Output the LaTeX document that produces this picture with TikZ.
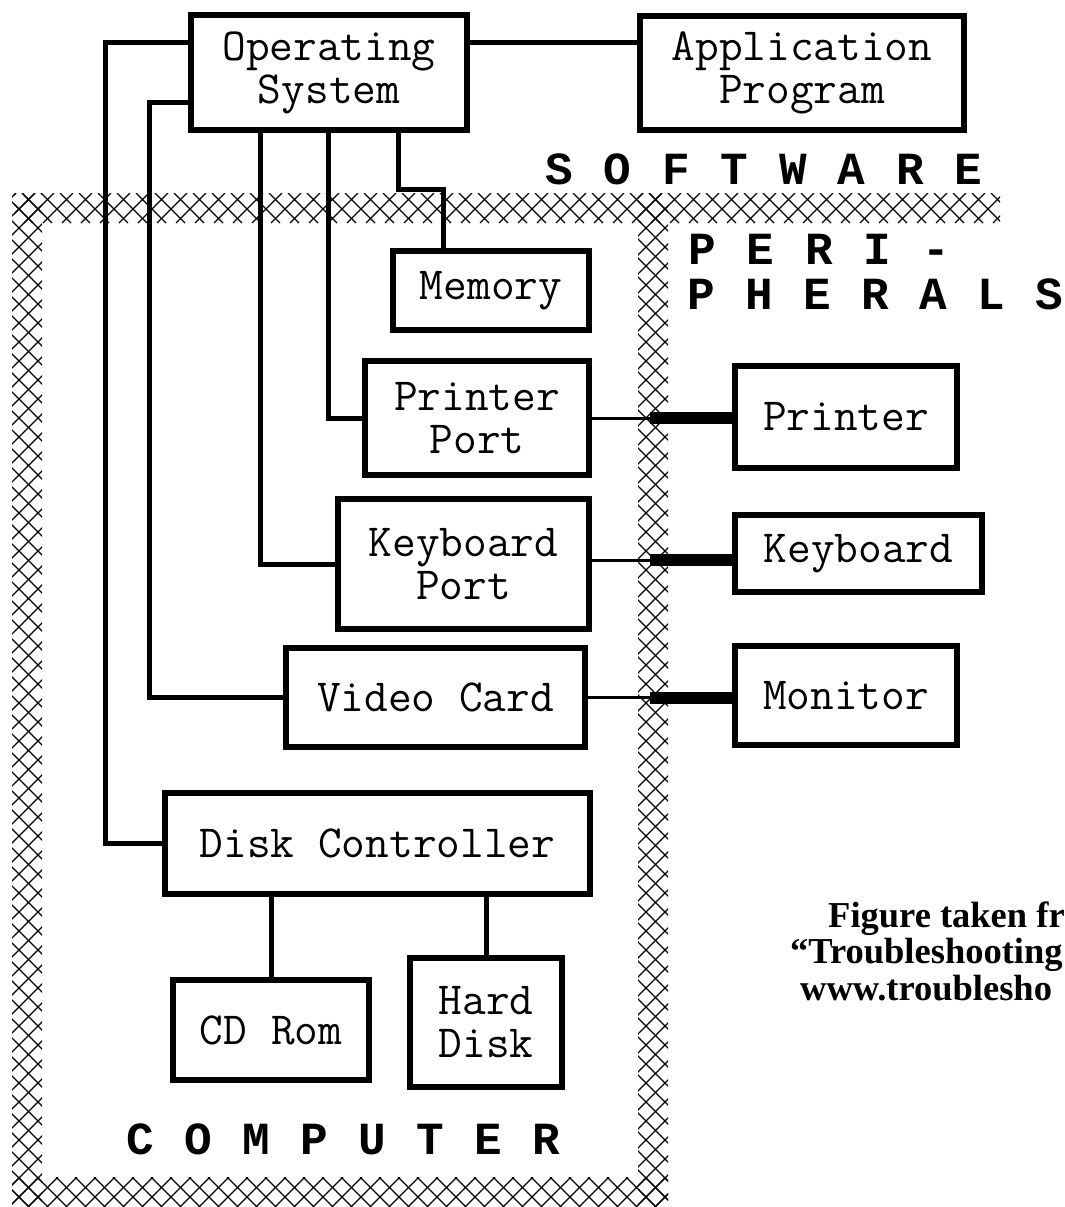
\documentclass[tikz,border=0pt]{standalone}
\usepackage{fontspec}
\usepackage{tikz}
\usetikzlibrary{calc}
\tikzset{>=latex}
\newfontfamily\spacedfont{Liberation Mono}
\newfontfamily\notefont{Liberation Serif}
\tikzstyle{unit}=[draw,line width=6pt,inner sep=0pt,align=center,font=\fontsize{46}{43}\selectfont\ttfamily]
\tikzstyle{wire}=[line width=5pt]
\tikzstyle{cable}=[line width=3pt]
\tikzstyle{plug}=[line width=12pt]
\tikzstyle{hatch}=[line width=1.2pt]
\tikzstyle{spaced}=[inner sep=0pt,anchor=base,font=\fontsize{46}{46}\selectfont\spacedfont\bfseries]
\tikzstyle{note}=[inner sep=0pt,anchor=base west,font=\fontsize{36.5}{38}\selectfont\notefont\bfseries]

\def\hstep{19}
% crosshatched band between (#1,#2) and (#3,#4)
\newcommand{\hatchband}[4]{%
  \begin{scope}
    \clip (#1,#2) rectangle (#3,#4);
    \pgfmathsetmacro{\ha}{floor((#1+#2)/\hstep)*\hstep}
    \pgfmathtruncatemacro{\hn}{((#3+#4)-\ha)/\hstep+1}
    \foreach \i in {0,...,\hn}{
      \pgfmathsetmacro{\hc}{\ha+\i*\hstep}
      \draw[hatch] (\hc-#2,#2) -- (\hc-#4,#4);
    }
    \pgfmathsetmacro{\hb}{floor((#1-#4)/\hstep)*\hstep}
    \pgfmathtruncatemacro{\hm}{((#3-#2)-\hb)/\hstep+1}
    \foreach \i in {0,...,\hm}{
      \pgfmathsetmacro{\hc}{\hb+\i*\hstep}
      \draw[hatch] (\hc+#2,#2) -- (\hc+#4,#4);
    }
  \end{scope}}

\begin{document}
\begin{tikzpicture}[x=1pt,y=-1pt]
  \useasboundingbox (0,0) rectangle (1065,1207);
  \fill[white] (0,0) rectangle (1065,1207);

  % borders of computer and peripherals
  \hatchband{14}{193}{1000}{223}
  \hatchband{12}{193}{42}{1207}
  \hatchband{638}{193}{668}{1207}
  \hatchband{12}{1177}{668}{1207}

  % software
  \node[unit,minimum width=276pt,minimum height=115pt] (os) at (329,72.5) {Operating\\System};
  \node[unit,minimum width=324pt,minimum height=114pt] (app) at (802,73) {Application\\Program};

  % computer
  \node[unit,minimum width=196pt,minimum height=79pt] (mem) at (491,290.5) {Memory};
  \node[unit,minimum width=224pt,minimum height=114pt] (pport) at (477,418) {Printer\\Port};
  \node[unit,minimum width=251pt,minimum height=130pt] (kport) at (463.5,564) {Keyboard\\Port};
  \node[unit,minimum width=299pt,minimum height=99pt] (video) at (435.5,697.5) {Video Card};
  \node[unit,minimum width=425pt,minimum height=101pt] (disk) at (377.5,843.5) {Disk Controller};
  \node[unit,minimum width=196pt,minimum height=100pt] (cdrom) at (271,1030) {CD Rom};
  \node[unit,minimum width=152pt,minimum height=129pt] (hdisk) at (486,1022.5) {Hard\\Disk};

  % peripherals
  \node[unit,minimum width=222pt,minimum height=102pt] (printer) at (846,417) {Printer};
  \node[unit,minimum width=247pt,minimum height=77pt] (keyb) at (858.5,553.5) {Keyboard};
  \node[unit,minimum width=222pt,minimum height=99pt] (monitor) at (846,695.5) {Monitor};

  % spaced titles
  \foreach \l [count=\i] in {S,O,F,T,W,A,R,E}
    \node[spaced] (sw\i) at ({559+(\i-1)*58.5},184) {\l};
  \foreach \l [count=\i] in {P,E,R,I,-}
    \node[spaced] (pa\i) at ({702+(\i-1)*58.5},264) {\l};
  \foreach \l [count=\i] in {P,H,E,R,A,L,S}
    \node[spaced] (pb\i) at ({701+(\i-1)*58},309) {\l};
  \foreach \l [count=\i] in {C,O,M,P,U,T,E,R}
    \node[spaced] (cp\i) at ({140+(\i-1)*58},1154) {\l};

  % connections
  \coordinate (osr) at ([yshift=30pt]os.east);
  \draw[wire] (osr) -- (osr -| app.west);
  \draw[wire] ([yshift=30pt]os.west) -- ++(-83,0) |- (disk.west);
  \draw[wire] ([yshift=-30pt]os.west) -- ++(-39,0) |- (video.west);
  \draw[wire] ([xshift=-69pt]os.south) |- (kport.west);
  \draw[wire] ([xshift=-1pt]os.south) |- (pport.west);
  \draw[wire] ([xshift=69pt]os.south) |- ([xshift=-48pt,yshift=59pt]mem.north) -- ([xshift=-48pt]mem.north);
  \draw[wire] (disk.south -| cdrom.north) -- (cdrom.north);
  \draw[wire] (disk.south -| hdisk.north) -- (hdisk.north);

  % cables to the peripherals
  \coordinate (kpr) at ([yshift=4pt]kport.east);
  \draw[cable] (pport.east) -- (pport.east -| printer.west);
  \draw[plug] (pport.east -| printer.west) -- ++(-82,0);
  \draw[cable] (kpr) -- (kpr -| keyb.west);
  \draw[plug] (kpr -| keyb.west) -- ++(-82,0);
  \draw[cable] (video.east) -- (video.east -| monitor.west);
  \draw[plug] (video.east -| monitor.west) -- ++(-82,0);

  \node[note] (n1) at (828,927) {Figure taken fr};
  \node[note] (n2) at (790,963) {“Troubleshooting};
  \node[note] (n3) at (800,1000) {www.troublesho};
\end{tikzpicture}
\end{document}
